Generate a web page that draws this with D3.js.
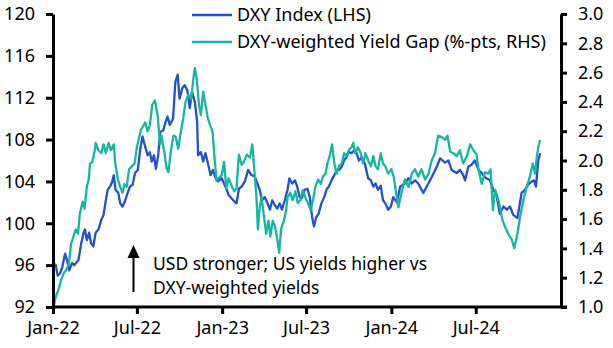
<html>
<meta charset="utf-8">
<head>
	<title>DXY vs yield gap</title>
	<script src="https://d3js.org/d3.v7.min.js"></script>
</head>
<body style="margin:0;background:#fff">
<svg id="chart" height="348" width="613"></svg>

<script>
	// DXY index (LHS)
	var dxyDates = ["2022-01-02","2022-01-07","2022-01-11","2022-01-16","2022-01-21","2022-01-27","2022-01-31","2022-02-05",
		"2022-02-11","2022-02-16","2022-02-25","2022-03-03","2022-03-08","2022-03-11","2022-03-15","2022-03-20",
		"2022-03-24","2022-03-29","2022-04-03","2022-04-09","2022-04-15","2022-04-20","2022-04-25","2022-04-29",
		"2022-05-04","2022-05-09","2022-05-12","2022-05-16","2022-05-22","2022-05-26","2022-05-31","2022-06-06",
		"2022-06-11","2022-06-16","2022-06-22","2022-06-27","2022-07-03","2022-07-08","2022-07-13","2022-07-19",
		"2022-07-24","2022-07-29","2022-08-02","2022-08-07","2022-08-11","2022-08-16","2022-08-20","2022-08-27",
		"2022-09-01","2022-09-05","2022-09-10","2022-09-17","2022-09-22","2022-09-27","2022-10-01","2022-10-07",
		"2022-10-12","2022-10-18","2022-10-23","2022-10-28","2022-11-03","2022-11-08","2022-11-10","2022-11-16",
		"2022-11-21","2022-11-26","2022-12-02","2022-12-07","2022-12-12","2022-12-18","2022-12-23","2022-12-31",
		"2023-01-05","2023-01-10","2023-01-15","2023-01-21","2023-01-27","2023-02-01","2023-02-06","2023-02-12",
		"2023-02-19","2023-02-26","2023-03-05","2023-03-12","2023-03-18","2023-03-23","2023-03-28","2023-04-03",
		"2023-04-09","2023-04-14","2023-04-19","2023-04-25","2023-04-30","2023-05-05","2023-05-10","2023-05-16",
		"2023-05-22","2023-05-26","2023-06-01","2023-06-07","2023-06-12","2023-06-17","2023-06-22","2023-06-28",
		"2023-07-04","2023-07-09","2023-07-14","2023-07-18","2023-07-23","2023-07-28","2023-08-03","2023-08-09",
		"2023-08-14","2023-08-19","2023-08-25","2023-08-31","2023-09-05","2023-09-10","2023-09-16","2023-09-21",
		"2023-09-26","2023-10-01","2023-10-07","2023-10-13","2023-10-18","2023-10-23","2023-10-29","2023-11-05",
		"2023-11-12","2023-11-18","2023-11-23","2023-11-28","2023-12-03","2023-12-09","2023-12-14","2023-12-19",
		"2023-12-25","2023-12-31","2024-01-05","2024-01-13","2024-01-20","2024-01-30","2024-02-07","2024-02-14",
		"2024-02-21","2024-02-28","2024-03-10","2024-03-17","2024-03-28","2024-04-08","2024-04-15","2024-04-26",
		"2024-05-03","2024-05-10","2024-05-21","2024-05-28","2024-06-04","2024-06-08","2024-06-15","2024-06-22",
		"2024-06-29","2024-07-07","2024-07-14","2024-07-21","2024-08-01","2024-08-08","2024-08-15","2024-08-22",
		"2024-08-30","2024-09-06","2024-09-13","2024-09-20","2024-09-29","2024-10-08","2024-10-15","2024-10-22",
		"2024-10-30","2024-11-04","2024-11-08","2024-11-13","2024-11-17"];
	var dxyValues = [96.2,96.0,95.0,95.2,95.8,97.1,96.5,95.5,
		96.2,96.0,96.5,98.1,99.1,99.4,98.4,99.1,
		98.1,97.8,99.1,99.4,100.3,100.8,102.2,103.2,
		103.5,104.0,104.6,103.2,102.9,101.9,101.6,102.2,
		102.9,103.5,103.7,104.8,105.1,107.0,108.3,107.3,
		106.5,106.8,105.9,106.5,105.2,106.5,108.7,108.9,
		109.7,110.2,109.4,110.0,113.5,114.2,111.9,112.9,
		113.2,112.7,111.0,112.6,111.6,109.7,106.5,106.8,
		105.9,106.7,105.6,104.6,105.1,104.3,104.0,104.3,
		103.8,103.3,102.7,102.4,102.1,101.9,103.3,103.5,
		104.0,105.1,104.6,104.5,103.8,103.2,102.2,102.5,
		101.9,101.3,102.2,101.7,101.4,101.9,101.3,102.2,
		103.2,104.3,103.8,104.1,103.5,102.5,102.4,103.2,
		103.3,102.5,100.6,99.7,100.6,100.9,101.9,102.5,
		103.2,103.5,104.1,104.6,105.1,105.1,105.4,106.0,
		106.3,106.8,106.7,107.0,106.7,106.0,106.3,105.7,
		104.3,104.1,103.5,103.8,103.2,103.6,102.2,101.9,
		101.3,101.6,102.5,102.0,103.5,103.8,104.3,103.8,
		104.1,103.8,102.9,103.5,104.4,105.4,106.2,105.8,
		106.0,105.1,104.8,105.1,104.6,104.1,105.4,105.6,
		106.0,105.1,104.8,104.4,104.1,103.2,102.7,100.9,
		101.6,101.3,101.6,100.8,100.5,102.9,103.2,103.7,
		104.0,104.1,103.5,106.0,106.7];

	// DXY-weighted yield gap, %-pts (RHS)
	var gapDates = ["2022-01-02","2022-01-07","2022-01-13","2022-01-18","2022-01-24","2022-01-29","2022-02-04","2022-02-09",
		"2022-02-14","2022-02-19","2022-02-24","2022-02-28","2022-03-06","2022-03-10","2022-03-15","2022-03-19",
		"2022-03-22","2022-03-27","2022-04-01","2022-04-03","2022-04-09","2022-04-15","2022-04-20","2022-04-25",
		"2022-05-01","2022-05-06","2022-05-12","2022-05-15","2022-05-21","2022-05-26","2022-05-31","2022-06-04",
		"2022-06-09","2022-06-14","2022-06-20","2022-06-26","2022-07-01","2022-07-06","2022-07-10","2022-07-19",
		"2022-07-24","2022-07-29","2022-08-03","2022-08-09","2022-08-15","2022-08-20","2022-08-23","2022-08-29",
		"2022-09-03","2022-09-07","2022-09-13","2022-09-18","2022-09-23","2022-09-28","2022-10-04","2022-10-09",
		"2022-10-14","2022-10-20","2022-10-26","2022-10-31","2022-11-03","2022-11-07","2022-11-12","2022-11-16",
		"2022-11-21","2022-11-26","2022-12-01","2022-12-06","2022-12-11","2022-12-15","2022-12-20","2022-12-25",
		"2022-12-31","2023-01-05","2023-01-10","2023-01-15","2023-01-21","2023-01-27","2023-02-01","2023-02-06",
		"2023-02-12","2023-02-17","2023-02-23","2023-03-02","2023-03-07","2023-03-16","2023-03-19","2023-03-23",
		"2023-03-27","2023-04-01","2023-04-06","2023-04-11","2023-04-15","2023-04-20","2023-04-25","2023-04-30",
		"2023-05-04","2023-05-08","2023-05-14","2023-05-19","2023-05-22","2023-05-28","2023-06-02","2023-06-08",
		"2023-06-13","2023-06-19","2023-06-24","2023-06-29","2023-07-05","2023-07-11","2023-07-16","2023-07-21",
		"2023-07-27","2023-08-02","2023-08-06","2023-08-12","2023-08-16","2023-08-21","2023-08-26","2023-08-31",
		"2023-09-05","2023-09-10","2023-09-16","2023-09-21","2023-09-26","2023-10-01","2023-10-07","2023-10-11",
		"2023-10-15","2023-10-21","2023-10-27","2023-11-01","2023-11-06","2023-11-12","2023-11-18","2023-11-23",
		"2023-11-28","2023-12-03","2023-12-09","2023-12-14","2023-12-19","2023-12-25","2024-01-01","2024-01-06",
		"2024-01-16","2024-01-23","2024-01-30","2024-02-07","2024-02-14","2024-02-21","2024-02-28","2024-03-06",
		"2024-03-14","2024-03-21","2024-03-28","2024-04-04","2024-04-11","2024-04-19","2024-04-26","2024-05-01",
		"2024-05-07","2024-05-14","2024-05-21","2024-05-28","2024-06-04","2024-06-12","2024-06-19","2024-06-26",
		"2024-07-03","2024-07-07","2024-07-14","2024-07-21","2024-07-28","2024-08-02","2024-08-07","2024-08-12",
		"2024-08-19","2024-08-28","2024-09-02","2024-09-09","2024-09-17","2024-09-22","2024-09-29","2024-10-05",
		"2024-10-12","2024-10-19","2024-10-26","2024-11-01","2024-11-06","2024-11-10","2024-11-13","2024-11-17"];
	var gapValues = [1.00,1.07,1.12,1.18,1.23,1.25,1.29,1.43,
		1.48,1.53,1.50,1.64,1.72,1.67,1.82,1.87,
		1.98,1.99,2.07,2.12,2.07,2.05,2.11,2.05,
		2.12,2.07,2.11,1.99,1.87,1.82,1.78,1.84,
		1.82,1.94,1.96,1.98,2.09,2.16,2.21,2.26,
		2.20,2.24,2.38,2.41,2.30,2.11,2.17,2.06,
		1.95,1.92,2.08,2.17,2.16,2.08,2.20,2.29,
		2.40,2.45,2.42,2.56,2.63,2.56,2.38,2.31,
		2.47,2.38,2.29,2.24,2.20,2.04,1.86,1.88,
		1.90,1.99,1.81,1.88,1.83,1.79,1.81,2.04,
		1.97,1.99,2.04,2.02,2.11,1.75,1.53,1.68,
		1.75,1.62,1.50,1.59,1.48,1.59,1.55,1.46,
		1.37,1.53,1.59,1.66,1.75,1.78,1.73,1.79,
		1.71,1.73,1.80,1.75,1.71,1.66,1.73,1.82,
		1.87,1.84,1.89,1.91,1.98,2.03,2.11,1.98,
		1.91,1.96,1.98,2.05,2.03,2.07,2.09,2.12,
		2.05,2.09,2.05,1.98,2.05,2.00,1.96,2.03,
		1.96,1.94,2.05,1.98,1.96,1.91,1.94,1.89,
		1.68,1.78,1.87,1.82,1.91,1.94,1.89,1.94,
		1.87,1.91,2.00,2.05,2.17,2.16,2.14,2.17,
		2.06,2.05,2.03,2.07,1.98,2.03,2.11,2.07,
		2.04,1.94,1.84,1.92,1.91,1.94,1.66,1.80,
		1.73,1.59,1.55,1.50,1.46,1.40,1.50,1.62,
		1.73,1.82,1.89,1.98,1.91,2.03,2.09,2.14];

	var leftTicks = [92, 96, 100, 104, 108, 112, 116, 120];
	var rightTicks = [1.0, 1.2, 1.4, 1.6, 1.8, 2.0, 2.2, 2.4, 2.6, 2.8, 3.0];
	var xTicks = ["2022-01-01","2022-07-01","2023-01-01","2023-07-01","2024-01-01","2024-07-01"];
	var seriesNames = ["DXY Index (LHS)", "DXY-weighted Yield Gap (%-pts, RHS)"];
	var noteLines = ["USD stronger; US yields higher vs", "DXY-weighted yields"];

	var blue = "#2350cc";
	var teal = "#17b6a2";
	var font = "'Noto Sans', 'Open Sans', sans-serif";

	var svg = d3.select("#chart");
	var parse = d3.timeParse("%Y-%m-%d");

	var x = d3.scaleTime()
		.domain([parse("2022-01-01"), parse("2025-01-01")])
		.range([53, 561]);
	var yLeft = d3.scaleLinear().domain([92, 120]).range([307, 14]);
	var yRight = d3.scaleLinear().domain([1, 3]).range([307, 14]);

	var dxy = dxyDates.map(function (d, i) { return { date: parse(d), value: dxyValues[i] }; });
	var gap = gapDates.map(function (d, i) { return { date: parse(d), value: gapValues[i] }; });

	// lines
	var lineLeft = d3.line()
		.x(function (d) { return x(d.date); })
		.y(function (d) { return yLeft(d.value); });
	var lineRight = d3.line()
		.x(function (d) { return x(d.date); })
		.y(function (d) { return yRight(d.value); });

	svg.append("path")
		.datum(dxy)
		.attr("d", lineLeft)
		.attr("fill", "none")
		.attr("stroke", blue)
		.attr("stroke-width", 2.3)
		.attr("stroke-linejoin", "round");

	svg.append("path")
		.datum(gap)
		.attr("d", lineRight)
		.attr("fill", "none")
		.attr("stroke", teal)
		.attr("stroke-width", 2.3)
		.attr("stroke-linejoin", "round");

	// axes
	function styleAxis(g) {
		g.selectAll("path.domain").attr("stroke", "#000").attr("stroke-width", 3);
		g.selectAll(".tick line").attr("stroke", "#000").attr("stroke-width", 3);
		g.selectAll(".tick text")
			.attr("fill", "#000")
			.style("font-family", font)
			.style("font-size", "18px");
	}

	svg.append("g")
		.attr("transform", "translate(53,0)")
		.call(d3.axisLeft(yLeft).tickValues(leftTicks).tickSize(7).tickSizeOuter(0).tickPadding(11).tickFormat(d3.format("d")))
		.call(styleAxis);

	svg.append("g")
		.attr("transform", "translate(561,0)")
		.call(d3.axisRight(yRight).tickValues(rightTicks).tickSize(6).tickSizeOuter(0).tickPadding(11).tickFormat(d3.format(".1f")))
		.call(styleAxis);

	var bottomAxis = svg.append("g")
		.attr("transform", "translate(0,307)")
		.call(d3.axisBottom(x).tickValues(xTicks.map(parse)).tickSize(7).tickSizeOuter(0).tickPadding(7).tickFormat(d3.timeFormat("%b-%y")))
		.call(styleAxis);
	bottomAxis.select("path.domain").attr("d", "M52,0H567");

	// legend
	var legend = svg.append("g");
	[blue, teal].forEach(function (c, i) {
		var ly = 15 + i * 27;
		legend.append("line")
			.attr("x1", 192).attr("x2", 232)
			.attr("y1", ly).attr("y2", ly)
			.attr("stroke", c).attr("stroke-width", 2.3);
		legend.append("text")
			.attr("x", 237).attr("y", ly)
			.attr("dy", "0.35em")
			.style("font-family", font)
			.style("font-size", "18px")
			.text(seriesNames[i]);
	});

	// annotation
	svg.append("line")
		.attr("x1", 133.5).attr("x2", 133.5)
		.attr("y1", 292).attr("y2", 255)
		.attr("stroke", "#000").attr("stroke-width", 2);
	svg.append("path")
		.attr("d", "M127.5,258L133.5,245L139.5,258Z")
		.attr("fill", "#000");
	svg.append("text")
		.attr("x", 153).attr("y", 270)
		.style("font-family", font)
		.style("font-size", "17.5px")
		.selectAll("tspan")
		.data(noteLines)
		.enter()
		.append("tspan")
		.attr("x", 153)
		.attr("dy", function (d, i) { return i === 0 ? 0 : 24; })
		.text(function (d) { return d; });
</script>
</body>
</html>
